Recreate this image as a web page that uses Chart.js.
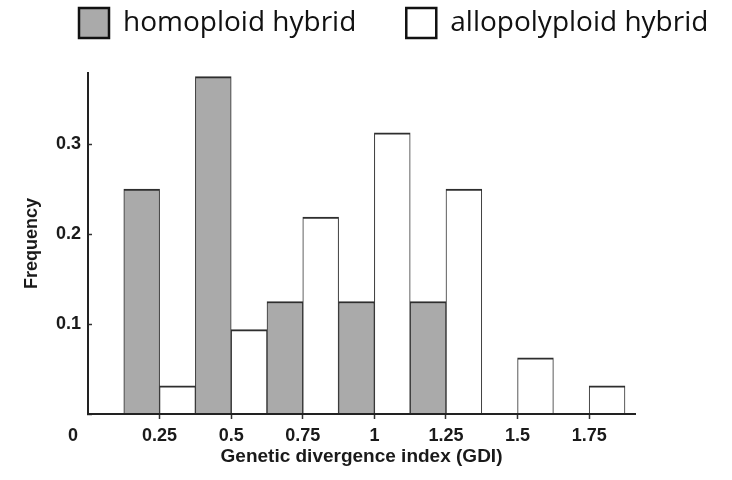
<!DOCTYPE html>
<html>
<head>
<meta charset="utf-8">
<script src="https://cdn.jsdelivr.net/npm/chart.js@4"></script>
<style>
  body { margin: 0; background: #fff; }
  #wrap { width: 732px; height: 480px; }
</style>
</head>
<body>
<div id="wrap"><canvas id="gdiChart" width="732" height="480"></canvas></div>
<script>
// ------------------- Data ------------------- //
const categories = [0.25, 0.5, 0.75, 1, 1.25, 1.5, 1.75];
const homoploid = [0.25, 0.375, 0.125, 0.125, 0.125, 0, 0];
const allopolyploid = [0.03125, 0.09375, 0.21875, 0.3125, 0.25, 0.0625, 0.03125];
const xTickLabels = ["0", "0.25", "0.5", "0.75", "1", "1.25", "1.5", "1.75"];
const yTickLabels = ["", "0.1", "0.2", "0.3"];
const seriesNames = ["homoploid hybrid", "allopolyploid hybrid"];

const axisFont = "'Liberation Sans', Arial, sans-serif";
const ink = "#1a1a1a";

// move the legend to where the figure has it
const legendShift = {
  id: "legendShift",
  afterLayout(chart) {
    const lg = chart.legend;
    const pad = lg.options.labels.padding;
    const h = lg.height;
    lg.left = 79 - pad;
    lg.right = 1000;
    lg.top = 8 - pad;
    lg.bottom = lg.top + h;
  },
};

// zero-height bars are left out
function points(values) {
  return categories
    .map((x, i) => ({ x: x, y: values[i] }))
    .filter((p) => p.y !== 0);
}

const barBorder = { top: 2, left: 1, right: 1, bottom: 0 };

new Chart(document.getElementById("gdiChart"), {
  type: "bar",
  data: {
    datasets: [
      {
        label: seriesNames[0],
        data: points(homoploid),
        backgroundColor: "#aaaaaa",
        borderColor: "#2e2e2e",
        borderWidth: barBorder,
        xAxisID: "x",
        yAxisID: "y",
      },
      {
        label: seriesNames[1],
        data: points(allopolyploid),
        backgroundColor: "#ffffff",
        borderColor: "#2e2e2e",
        borderWidth: barBorder,
        xAxisID: "x",
        yAxisID: "y",
      },
    ],
  },
  options: {
    responsive: false,
    animation: false,
    devicePixelRatio: 1,
    datasets: { bar: { categoryPercentage: 1, barPercentage: 1 } },
    layout: { padding: { top: -17, left: 0, right: 0, bottom: 0 } },
    plugins: {
      tooltip: { enabled: false },
      legend: {
        display: true,
        position: "top",
        align: "start",
        labels: {
          boxWidth: 30,
          boxHeight: 30,
          padding: 50,
          color: "#111",
          font: { family: "'Open Sans', sans-serif", size: 28 },
          generateLabels: (chart) =>
            chart.data.datasets.map((ds, i) => ({
              text: ds.label,
              fillStyle: ds.backgroundColor,
              strokeStyle: "#111",
              lineWidth: 2.5,
              fontColor: "#111",
              hidden: false,
              datasetIndex: i,
            })),
        },
      },
    },
    scales: {
      x: {
        type: "linear",
        position: "bottom",
        min: 0,
        max: 1.91,
        offset: false,
        grid: {
          offset: false,
          drawOnChartArea: false,
          drawTicks: true,
          tickLength: 5,
          tickWidth: 1.5,
          tickColor: (ctx) => (ctx.tick && ctx.tick.value === 0 ? "rgba(0,0,0,0)" : "#333"),
        },
        // axis line over the bar bottoms
        border: { display: true, color: "#222", width: 2, z: 1 },
        ticks: {
          stepSize: 0.25,
          includeBounds: false,
          autoSkip: false,
          maxRotation: 0,
          padding: 6,
          color: ink,
          font: { family: axisFont, size: 18, weight: "bold" },
          // the "0" sits left of the corner in the figure
          callback: (v, i) => (i === 0 ? xTickLabels[i] + "      " : xTickLabels[i]),
        },
        title: {
          display: true,
          text: "Genetic divergence index (GDI)",
          color: ink,
          font: { family: axisFont, size: 19, weight: "bold" },
          padding: { top: 0, bottom: 12 },
        },
        afterFit: (s) => { s.height = 66; },
      },
      y: {
        type: "linear",
        position: "left",
        min: 0,
        max: 0.379,
        grid: {
          drawOnChartArea: false,
          drawTicks: true,
          tickLength: -4,
          tickWidth: 1.5,
          tickColor: "#333",
        },
        border: { display: true, color: "#222", width: 2, z: 1 },
        ticks: {
          stepSize: 0.1,
          includeBounds: false,
          padding: 11,
          color: ink,
          font: { family: axisFont, size: 18, weight: "bold" },
          callback: (v, i) => yTickLabels[i],
        },
        title: {
          display: true,
          text: "Frequency",
          color: ink,
          font: { family: axisFont, size: 18, weight: "bold" },
          padding: { top: 21, bottom: 0 },
        },
        afterFit: (s) => { s.width = 88; },
      },
      // empty axis that only keeps the right margin
      pad: {
        type: "linear",
        position: "right",
        display: true,
        grid: { display: false },
        border: { display: false },
        ticks: { display: false },
        afterFit: (s) => { s.width = 97; },
      },
    },
  },
  plugins: [legendShift],
});
</script>
</body>
</html>
